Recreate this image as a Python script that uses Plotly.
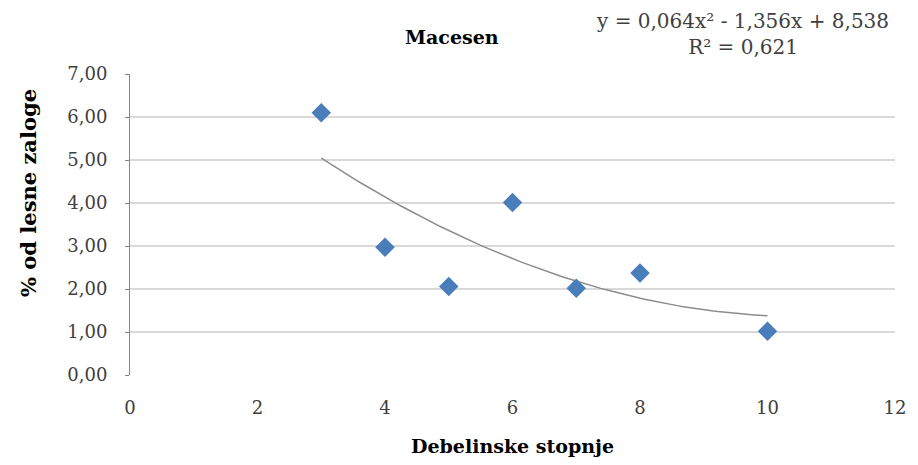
import numpy as np
import plotly.graph_objects as go

# Data
x_vals = [3, 4, 5, 6, 7, 8, 10]
y_vals = [6.10, 2.97, 2.06, 4.01, 2.02, 2.37, 1.02]

# Trendline coefficients as printed on the chart
trend_coef = [0.064, -1.356, 8.538]
trend_x_range = [3, 10]

title_text = "Macesen"
eq_text = "y = 0,064x² - 1,356x + 8,538<br>R² = 0,621"
x_title = "Debelinske stopnje"
y_title = "% od lesne zaloge"

tx = np.linspace(trend_x_range[0], trend_x_range[1], 100)
ty = np.polyval(trend_coef, tx)

font_family = "'DejaVu Serif', serif"

L, R, T, B, W, H = 130, 13, 74, 89, 918, 465
pw, ph = W - L - R, H - T - B

def px2paper(px, py):
    return (px - L) / pw, (H - B - py) / ph

fig = go.Figure()
fig.add_trace(go.Scatter(x=tx, y=ty, mode="lines",
                         line=dict(color="#8c8c8c", width=1.5),
                         hoverinfo="skip", showlegend=False))
fig.add_trace(go.Scatter(x=x_vals, y=y_vals, mode="markers",
                         marker=dict(symbol="diamond", size=15, color="#4a7ebb",
                                     line=dict(width=0)),
                         showlegend=False))

tx1, ty1 = px2paper(456, 37)
ex, ey = px2paper(751, 34)
yx, yy = px2paper(27, 193)
fig.update_layout(
    width=W, height=H,
    margin=dict(l=L, r=R, t=T, b=B),
    paper_bgcolor="white", plot_bgcolor="white",
    separators=", ",
    font=dict(family=font_family, size=18, color="#404040"),
    showlegend=False,
    annotations=[
        dict(text="<b>" + title_text + "</b>", x=tx1, y=ty1, xref="paper", yref="paper",
             xanchor="center", yanchor="middle", showarrow=False,
             font=dict(size=19, color="black")),
        dict(text=eq_text, x=ex, y=ey, xref="paper", yref="paper",
             xanchor="center", yanchor="middle", showarrow=False,
             font=dict(size=20, color="#404040")),
        dict(text="<b>" + y_title + "</b>", x=yx, y=yy, xref="paper", yref="paper",
             xanchor="center", yanchor="middle", showarrow=False, textangle=-90,
             font=dict(size=21, color="black")),
    ],
)
fig.update_xaxes(range=[0, 12], dtick=2, tick0=0, showgrid=False, zeroline=False,
                 showline=False, ticks="", ticklabelstandoff=20,
                 tickfont=dict(size=18, color="#404040"),
                 title=dict(text="<b>" + x_title + "</b>", font=dict(size=19, color="black"),
                            standoff=22))
fig.update_yaxes(range=[0, 7], dtick=1, tick0=0, tickformat=".2f",
                 showgrid=True, gridcolor="#d9d9d9", gridwidth=1.5, zeroline=False,
                 showline=True, linecolor="#868686", linewidth=1,
                 ticks="outside", ticklen=4, tickcolor="#868686",
                 ticklabelstandoff=14,
                 tickfont=dict(size=18, color="#404040"))

fig.write_html("out.html")
